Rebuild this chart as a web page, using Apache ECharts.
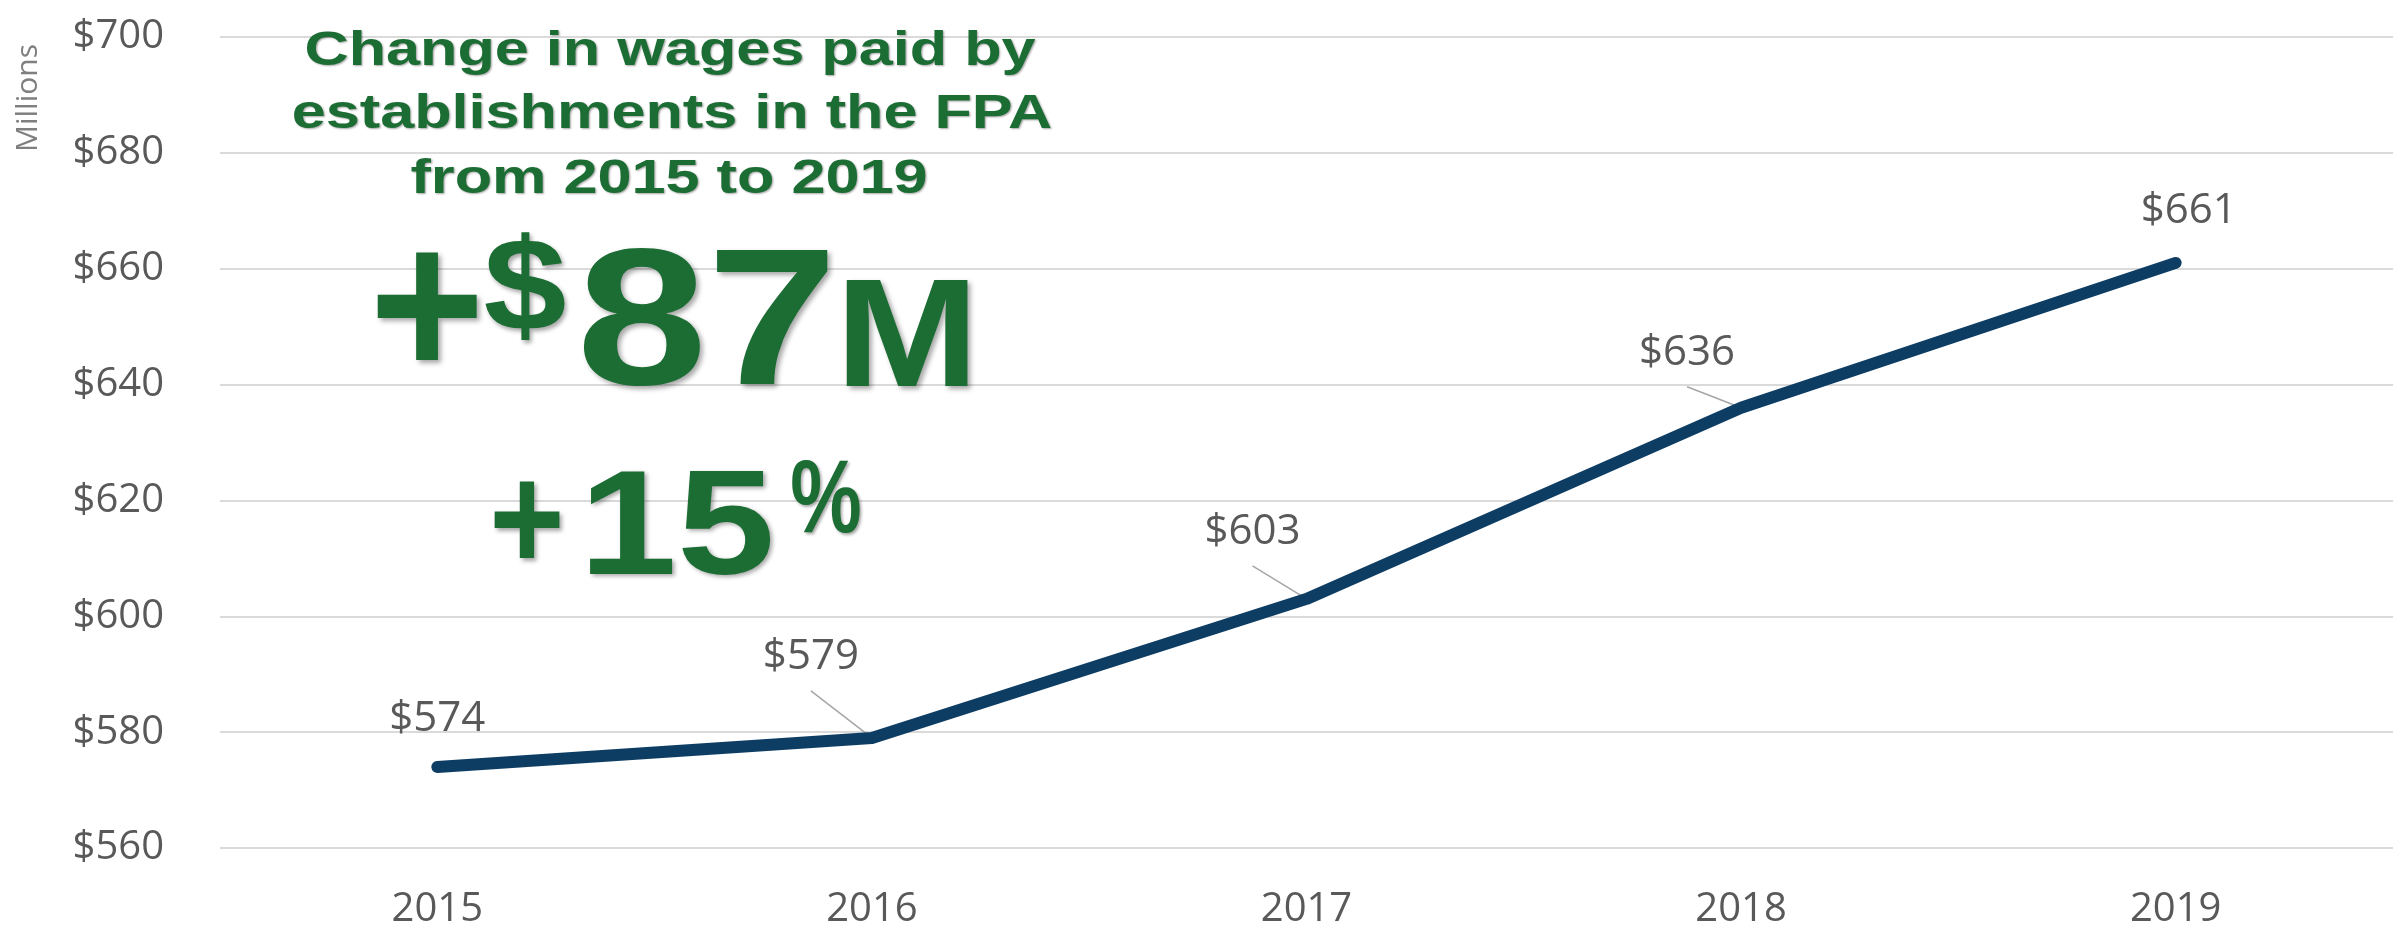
<!DOCTYPE html>
<html>
<head>
<meta charset="utf-8">
<script src="https://cdn.jsdelivr.net/npm/echarts@6/dist/echarts.min.js"></script>
<style>
  html, body { margin: 0; padding: 0; background: #ffffff; }
  #chart { width: 2402px; height: 930px; }
</style>
</head>
<body>
<div id="chart"></div>
<script>
// ---- data ----
const categories = ['2015', '2016', '2017', '2018', '2019'];
const wages = [574, 579, 603, 636, 661];           // $ millions
const yMin = 560, yMax = 700, yStep = 20;
const unitLabel = 'Millions';
const titleLines = ['Change in wages paid by', 'establishments in the FPA', 'from 2015 to 2019'];
const dollarChangeParts = ['+', '$', '87', 'M'];
const percentChangeParts = ['+', '15', '%'];

// ---- label placement (style: pixel offsets of each label from its point) ----
const labelShift = [[0, -48], [-61, -81], [-54, -67], [-54, -55], [13, -52]];
const leaderShown = [false, true, true, true, false];
const LEADER_GAP = 34;

const GREEN = '#1b6d33';
const GREY = '#595959';
const NAVY = '#0e3d64';
const LABEL_FONT = '"Open Sans", "Noto Sans", sans-serif';
const BOLD_FONT = '"Liberation Sans", Arial, sans-serif';

function bigText(text, x, y, size, sx, shadow) {
  return {
    type: 'text', x: x, y: y, scaleX: sx, z: 10,
    style: {
      text: text, x: 0, y: 0, align: 'center', verticalAlign: 'middle',
      fill: GREEN, fontSize: size, fontWeight: 'bold', fontFamily: BOLD_FONT,
      textShadowColor: 'rgba(0,0,0,0.35)', textShadowBlur: shadow,
      textShadowOffsetX: shadow * 0.6, textShadowOffsetY: shadow * 0.6
    }
  };
}

const graphics = [
  {
    type: 'text', x: 28, y: 98, rotation: Math.PI / 2,
    style: {
      text: unitLabel, x: 0, y: 0, align: 'center', verticalAlign: 'middle',
      fill: '#7f7f7f', fontSize: 30, fontFamily: LABEL_FONT
    }
  },
  bigText(titleLines[0], 670, 52, 48, 1.275, 2),
  bigText(titleLines[1], 672, 115, 48, 1.275, 2),
  bigText(titleLines[2], 669, 180, 48, 1.275, 2),
  bigText(dollarChangeParts[0], 427, 319, 212, 0.93, 5),
  bigText(dollarChangeParts[1], 525, 294, 131, 1.14, 4),
  bigText(dollarChangeParts[2], 707, 330, 194, 1.21, 5),
  bigText(dollarChangeParts[3], 907, 344, 154, 1.12, 5),
  bigText(percentChangeParts[0], 527, 529, 150, 0.86, 4),
  bigText(percentChangeParts[1], 677, 533, 148, 1.19, 4),
  bigText(percentChangeParts[2], 826, 504, 103, 0.78, 3)
];

const chart = echarts.init(document.getElementById('chart'), null, { renderer: 'canvas' });
chart.setOption({
  backgroundColor: '#ffffff',
  animation: false,
  grid: { left: 220, right: 9, top: 37, bottom: 82, containLabel: false },
  xAxis: {
    type: 'category',
    data: categories,
    boundaryGap: true,
    axisLine: { show: false },
    axisTick: { show: false },
    axisLabel: { color: GREY, fontSize: 40, fontFamily: LABEL_FONT, margin: 42 },
    splitLine: { show: false }
  },
  yAxis: {
    type: 'value',
    min: yMin, max: yMax, interval: yStep,
    axisLine: { show: false },
    axisTick: { show: false },
    axisLabel: {
      color: GREY, fontSize: 40, fontFamily: LABEL_FONT, margin: 56,
      formatter: v => '$' + v
    },
    splitLine: { show: true, lineStyle: { color: '#dadada', width: 2 } }
  },
  series: [
    {
      // leader lines from each moved label down to its point
      type: 'custom',
      data: wages.map((v, i) => [i, v]),
      encode: { x: 0, y: 1 },
      z: 2,
      silent: true,
      renderItem: function (params, api) {
        const i = params.dataIndex;
        if (!leaderShown[i]) return null;
        const p = api.coord([api.value(0), api.value(1)]);
        return {
          type: 'line',
          shape: {
            x1: p[0] + labelShift[i][0], y1: p[1] + labelShift[i][1] + LEADER_GAP,
            x2: p[0], y2: p[1]
          },
          style: { stroke: '#a6a6a6', lineWidth: 1.5 }
        };
      }
    },
    {
      type: 'line',
      data: wages,
      symbol: 'circle',
      symbolSize: 2,
      showSymbol: true,
      itemStyle: { color: NAVY },
      lineStyle: { color: NAVY, width: 12, cap: 'round', join: 'round' },
      label: {
        show: true, position: 'inside', color: GREY, fontSize: 42,
        fontFamily: LABEL_FONT, formatter: p => '$' + p.value
      },
      labelLayout: p => ({ dx: labelShift[p.dataIndex][0], dy: labelShift[p.dataIndex][1] }),
      z: 3
    }
  ],
  graphic: graphics
});
</script>
</body>
</html>
